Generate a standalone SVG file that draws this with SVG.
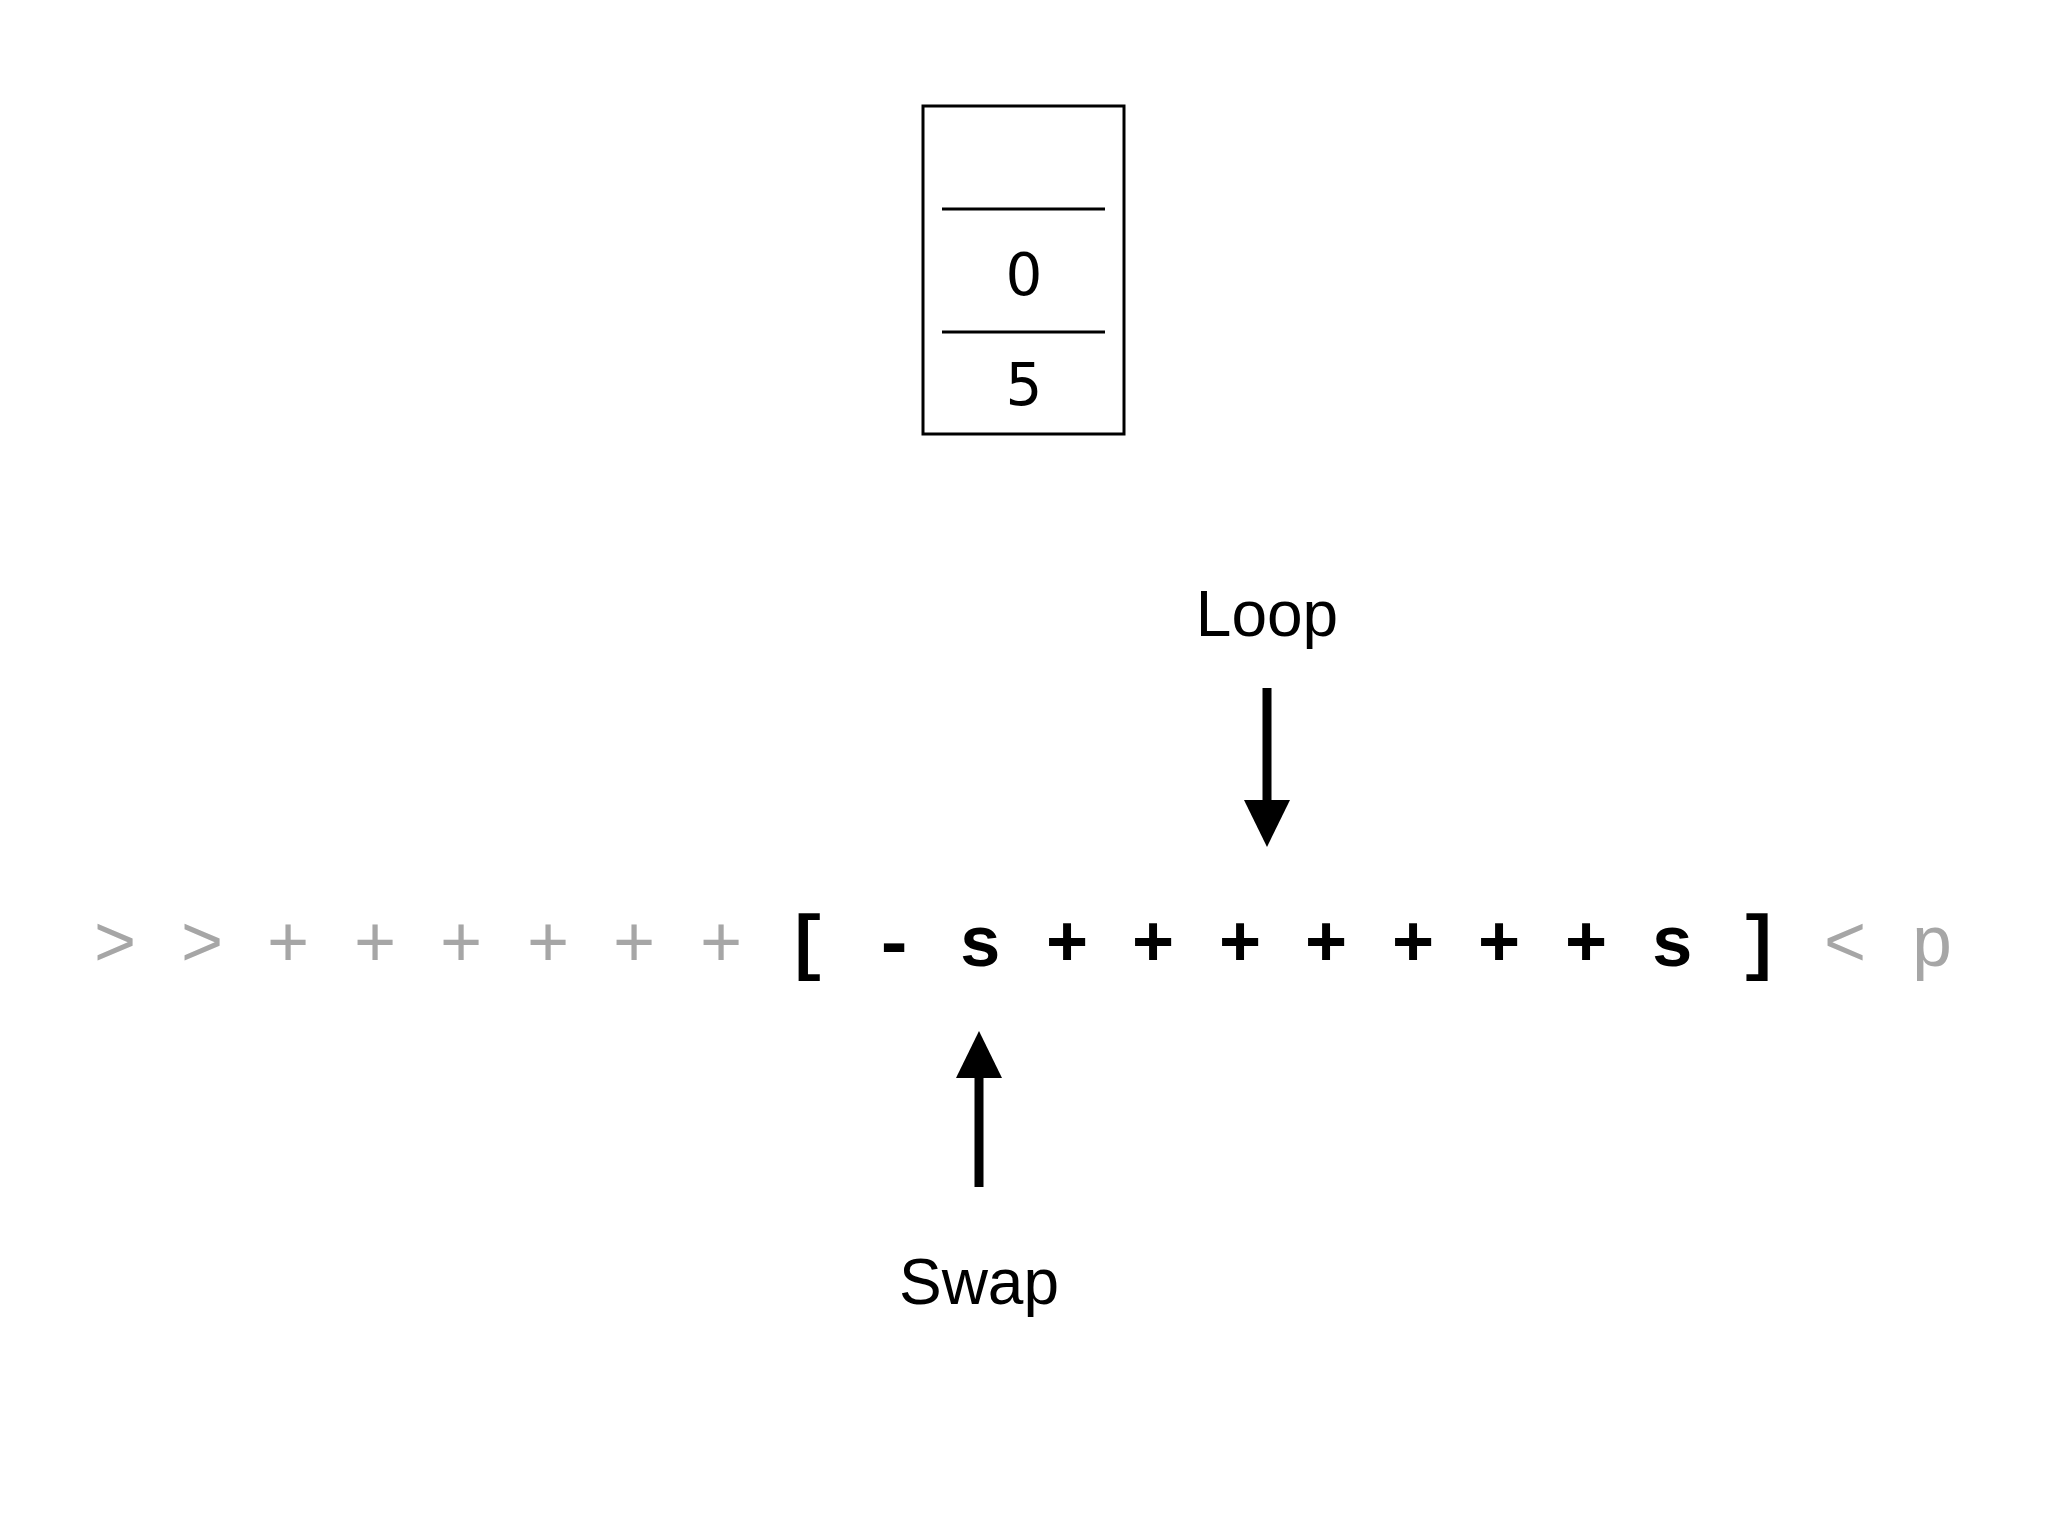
<svg xmlns="http://www.w3.org/2000/svg" width="2048" height="1536" viewBox="0 0 2048 1536">
<style>
.num{font-family:"DejaVu Sans",sans-serif;font-size:58px;text-anchor:middle;fill:#000}
.lbl{font-family:"Liberation Sans",Arial,sans-serif;font-size:64px;text-anchor:middle;fill:#000}
.code{font-family:"Liberation Mono","Courier New",monospace;font-size:72px;text-anchor:middle}
.g{fill:#a6a6a6}
.b{fill:#000;font-weight:bold}
</style>
<rect width="2048" height="1536" fill="#fff"/>
<g id="stack">
<rect x="923" y="106" width="201" height="328" fill="none" stroke="#000" stroke-width="3"/>
<line x1="942" y1="209" x2="1105" y2="209" stroke="#000" stroke-width="3"/>
<line x1="942" y1="332" x2="1105" y2="332" stroke="#000" stroke-width="3"/>
<text class="num" x="1024" y="295">0</text>
<text class="num" x="1024" y="405">5</text>
</g>
<g id="loop"><text class="lbl" x="1267" y="636">Loop</text></g>
<g id="swap"><text class="lbl" x="979" y="1304">Swap</text></g>
<g id="code">
<text class="code g" y="966"><tspan x="115">&gt;</tspan><tspan x="202">&gt;</tspan><tspan x="288">+</tspan><tspan x="375">+</tspan><tspan x="461">+</tspan><tspan x="548">+</tspan><tspan x="634">+</tspan><tspan x="721">+</tspan></text>
<text class="code b" y="966"><tspan x="807">[</tspan><tspan x="894">-</tspan><tspan x="980">s</tspan><tspan x="1067">+</tspan><tspan x="1153">+</tspan><tspan x="1240">+</tspan><tspan x="1326">+</tspan><tspan x="1413">+</tspan><tspan x="1499">+</tspan><tspan x="1586">+</tspan><tspan x="1672">s</tspan><tspan x="1759">]</tspan></text>
<text class="code g" y="966"><tspan x="1845">&lt;</tspan><tspan x="1932">p</tspan></text>
</g>
<g id="connectors">
<line x1="1267" y1="688" x2="1267" y2="802" stroke="#000" stroke-width="9"/>
<polygon points="1244,800 1290,800 1267,847" fill="#000"/>
<line x1="979" y1="1187" x2="979" y2="1076" stroke="#000" stroke-width="9"/>
<polygon points="956,1078 1002,1078 979,1031" fill="#000"/>
</g>
</svg>
